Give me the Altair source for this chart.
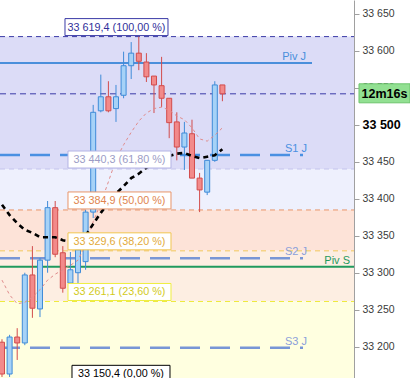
import altair as alt
import pandas as pd

# ---------------- data ----------------
candle_index = list(range(30))
opens  = [33206, 33163, 33213, 33205, 33297, 33251, 33317, 33388, 33327, 33286,
          33300, 33315, 33382, 33519, 33538, 33522, 33540, 33580, 33597, 33585,
          33566, 33553, 33536, 33504, 33470, 33488, 33428, 33409, 33452, 33554]
highs  = [33210, 33216, 33225, 33300, 33336, 33320, 33397, 33397, 33336, 33328,
          33342, 33385, 33527, 33568, 33559, 33554, 33599, 33612, 33619.4, 33597,
          33566, 33592, 33536, 33517, 33504, 33507, 33435, 33452, 33559, 33554]
lows   = [33159, 33159, 33182, 33202, 33239, 33240, 33300, 33321, 33273, 33283,
          33286, 33304, 33374, 33517, 33517, 33504, 33536, 33562, 33574, 33558,
          33516, 33524, 33482, 33452, 33439, 33428, 33382, 33405, 33450, 33532]
closes = [33163, 33213, 33205, 33297, 33252, 33317, 33388, 33325, 33279, 33304,
          33331, 33382, 33517, 33538, 33519, 33538, 33580, 33597, 33586, 33565,
          33554, 33536, 33503, 33470, 33489, 33428, 33412, 33452, 33554, 33542]

ma_slow = [33392, 33378, 33367, 33358, 33354, 33348, 33348, 33348, 33344, 33342,
           33344, 33350, 33366, 33381, 33394, 33407, 33417, 33428, 33434, 33442,
           33448, 33454, 33458, 33461, 33462, 33458, 33455, 33457, 33459, 33467]
ma_fast = [33290, 33270, 33258, 33260, 33267, 33277, 33290, 33298, 33304, 33310,
           33317, 33338, 33369, 33394, 33423, 33453, 33473, 33490, 33505, 33516,
           33522, 33524, 33520, 33512, 33507, 33496, 33481, 33478, 33486, 33496]

fib_levels = [33619.4, 33440.3, 33384.9, 33329.6, 33261.1, 33150.4]
fib_ratios = [100.0, 61.8, 50.0, 38.2, 23.6, 0.0]

pivot_names  = ["Piv J", "S1 J", "S2 J", "Piv S", "S3 J"]
pivot_values = [33583.7, 33459.2, 33319.5, 33308.2, 33198.6]

tick_values = [33200, 33250, 33300, 33350, 33400, 33450, 33500, 33550, 33600, 33650]
timer_text = "12m16s"

# ---------------- layout / styles ----------------
X_MIN, X_MAX = -0.263, 46.316
Y_MIN, Y_MAX = 33157.6, 33668.9


def px(x):
    return x / 7.6 - 0.263


FONT = "Liberation Sans"
xs = alt.Scale(domain=[X_MIN, X_MAX], nice=False, zero=False, padding=0)
ys = alt.Scale(domain=[Y_MIN, Y_MAX], nice=False, zero=False, padding=0)

cond500 = "datum.value == 33500"
yaxis = alt.Axis(
    orient="right", values=tick_values, title=None, grid=False,
    labelExpr="replace(format(datum.value, ','), ',', ' ')",
    domainColor="#a0a0a0", tickColor="#a0a0a0", tickSize=5, labelPadding=3,
    labelFont=FONT,
    labelFontSize={"condition": {"test": cond500, "value": 12.5}, "value": 10.5},
    labelFontWeight={"condition": {"test": cond500, "value": "bold"}, "value": "normal"},
    labelColor={"condition": {"test": cond500, "value": "#000000"}, "value": "#3a3a3a"},
)


def X(f):
    return alt.X(f, type="quantitative", scale=xs, axis=None)


def Y(f):
    return alt.Y(f, type="quantitative", scale=ys, axis=yaxis)


# candles table
cdf = pd.DataFrame({"i": candle_index, "open": opens, "high": highs,
                    "low": lows, "close": closes})
cdf["dir"] = ["up" if c >= o else "down" for o, c in zip(opens, closes)]

madf = pd.DataFrame({"i": candle_index, "slow": ma_slow, "fast": ma_fast})

# background bands between fibonacci levels
band_colors = ["#dcdcf7", "#eef0fd", "#fde3d8", "#fdeee2", "#ffffe0"]
bdf = pd.DataFrame({
    "top": fib_levels[:-1], "bottom": fib_levels[1:], "c": band_colors,
    "x0": X_MIN, "x1": X_MAX})

fib_line_colors = ["#3a3aa6", "#c4c4ec", "#e8956a", "#f2c75a", "#eeea3a", "#000000"]
fib_box_colors  = ["#3a3aa6", "#b4b4e4", "#e8956a", "#f0c550", "#eeee40", "#000000"]
fib_text_colors = ["#30309a", "#9c9cc6", "#e0844e", "#e2aa3a", "#d2ca1c", "#000000"]
box_left_px  = [65, 68, 68, 68, 68, 72]
box_right_px = [168, 171, 171, 171, 171, 170]


def fmt_level(v):
    return f"{v:,.1f}".replace(",", " ").replace(".", ",")


def fmt_ratio(r):
    return f"{r:.2f}".replace(".", ",")


fdf = pd.DataFrame({
    "level": fib_levels,
    "label": [f"{fmt_level(v)} ({fmt_ratio(r)} %)" for v, r in zip(fib_levels, fib_ratios)],
    "lc": fib_line_colors, "bc": fib_box_colors, "tc": fib_text_colors,
    "bx0": [px(v) for v in box_left_px], "bx1": [px(v) for v in box_right_px],
    "tx": [px((a + b) / 2) for a, b in zip(box_left_px, box_right_px)],
    "x0": X_MIN, "x1": X_MAX})

pivot_colors = ["#4a8fdb", "#4a90e2", "#7896d6", "#1f9a5e", "#7896d6"]
pivot_label_colors = ["#4a8fdb", "#4a90e2", "#8ba0da", "#1f9a5e", "#8ba0da"]
pivot_end_px = [312, 303, 303, 354, 303]
pivot_text_px = [306, 307, 307, 350, 307]
pivot_dashed = [False, True, True, False, True]
pdf = pd.DataFrame({
    "name": pivot_names, "v": pivot_values, "c": pivot_colors, "lc": pivot_label_colors,
    "x0": X_MIN, "x1": [px(v) for v in pivot_end_px],
    "tx": [px(v) for v in pivot_text_px], "dashed": pivot_dashed})

price_df = pd.DataFrame({"v": [closes[-1]], "x0": [X_MIN], "x1": [X_MAX],
                         "bx0": [px(359)], "bx1": [px(410)], "tx": [px(384.5)],
                         "t": [timer_text]})

# ---------------- layers ----------------
bands = alt.Chart(bdf).mark_rect(clip=True).encode(
    x=X("x0"), x2="x1", y=Y("top"), y2="bottom",
    color=alt.Color("c:N", scale=None))

fib_lines = alt.Chart(fdf).mark_rule(strokeDash=[5, 4], strokeWidth=1, clip=True).encode(
    x=X("x0"), x2="x1", y=Y("level"), color=alt.Color("lc:N", scale=None))

price_line = alt.Chart(price_df).mark_rule(strokeDash=[6, 4], strokeWidth=1, color="#3a3aa6").encode(
    x=X("x0"), x2="x1", y=Y("v"))

piv_solid = alt.Chart(pdf).transform_filter("!datum.dashed").mark_rule(strokeWidth=2).encode(
    x=X("x0"), x2="x1", y=Y("v"), color=alt.Color("c:N", scale=None))
piv_dash = alt.Chart(pdf).transform_filter("datum.dashed").mark_rule(
    strokeWidth=2.5, strokeDash=[20, 10]).encode(
    x=X("x0"), x2="x1", y=Y("v"), color=alt.Color("c:N", scale=None))

wicks = alt.Chart(cdf).mark_rule(strokeWidth=1).encode(
    x=X("i"), y=Y("low"), y2="high",
    color=alt.Color("dir:N", scale=alt.Scale(domain=["up", "down"], range=["#3f8bd8", "#d24c4c"]),
                    legend=None))
bodies = alt.Chart(cdf).mark_bar(size=5, strokeWidth=1).encode(
    x=X("i"), y=Y("open"), y2="close",
    fill=alt.Fill("dir:N", scale=alt.Scale(domain=["up", "down"], range=["#a6d2f7", "#f28a8a"]),
                  legend=None),
    stroke=alt.Stroke("dir:N", scale=alt.Scale(domain=["up", "down"], range=["#3f8bd8", "#d24c4c"]),
                      legend=None))

ma_fast_line = alt.Chart(madf).mark_line(strokeDash=[3, 3], strokeWidth=1, color="#e08c8c").encode(
    x=X("i"), y=Y("fast"))
ma_slow_line = alt.Chart(madf).mark_line(strokeDash=[5, 4], strokeWidth=2.6, color="#000000").encode(
    x=X("i"), y=Y("slow"))

piv_text = alt.Chart(pdf).mark_text(align="right", baseline="bottom", dy=-1, fontSize=11, font=FONT).encode(
    x=X("tx"), y=Y("v"), text="name:N", color=alt.Color("lc:N", scale=None))

fib_boxes = alt.Chart(fdf).mark_rect(fill="white", strokeWidth=1, yOffset=-1, y2Offset=-18).encode(
    x=X("bx0"), x2="bx1", y=Y("level"), y2="level", stroke=alt.Stroke("bc:N", scale=None))
fib_text = alt.Chart(fdf).mark_text(baseline="middle", dy=-9, fontSize=10.8, font=FONT).encode(
    x=X("tx"), y=Y("level"), text="label:N", color=alt.Color("tc:N", scale=None))

timer_box = alt.Chart(price_df).mark_rect(fill="#92e092", stroke="#6cc46c", strokeWidth=1,
                                          yOffset=-10, y2Offset=9).encode(
    x=X("bx0"), x2="bx1", y=Y("v"), y2="v")
timer_text_mark = alt.Chart(price_df).mark_text(baseline="middle", fontSize=12.5, fontWeight="bold",
                                                font=FONT, color="#000000").encode(
    x=X("tx"), y=Y("v"), text="t:N")

chart = alt.layer(
    bands, fib_lines, price_line, piv_solid, piv_dash, wicks, bodies,
    ma_fast_line, ma_slow_line, piv_text, fib_boxes, fib_text, timer_box, timer_text_mark
).properties(
    width=354, height=378,
    autosize=alt.AutoSizeParams(type="none"),
    padding={"left": 0, "top": 0, "right": 56, "bottom": 0},
    background="white",
).configure_view(strokeWidth=0)

chart.save("out.html", embed_options={"renderer": "svg", "actions": False})
